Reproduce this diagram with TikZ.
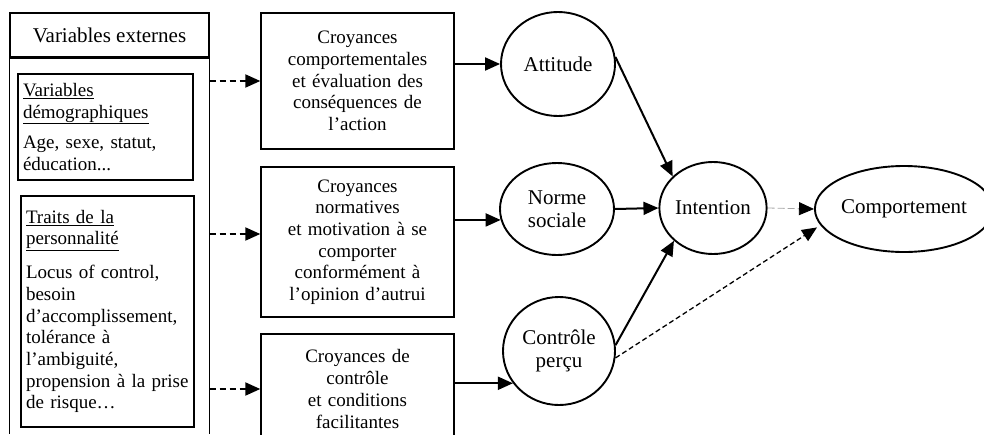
\documentclass[tikz,border=0pt]{standalone}
\usepackage{fontspec}
\setmainfont{Liberation Serif}
\usepackage{tikz}
\usetikzlibrary{arrows.meta,shapes.geometric}

\begin{document}
\begin{tikzpicture}[
    x=1pt, y=1pt,
    >={Triangle[length=15pt,width=13pt]},
    every node/.style = {inner sep=2pt, font=\fontsize{19}{21.7}\selectfont},
    head/.style  = {rectangle, draw, line width=1.4pt, minimum width=199pt,
                     minimum height=44pt, font=\fontsize{21}{23}\selectfont},
    sub/.style   = {rectangle, draw, line width=1.4pt, align=left,
                     inner xsep=5pt},
    croy/.style  = {rectangle, draw, line width=1.4pt, align=center,
                     minimum width=193pt, text width=180pt},
    var/.style   = {ellipse, draw, line width=1.9pt, align=center,
                     inner sep=0pt, font=\fontsize{21}{23.5}\selectfont},
    solid arr/.style = {->, line width=2pt},
    dash arr/.style  = {->, line width=2pt, dash pattern=on 6pt off 4pt},
  ]
  \useasboundingbox (0,0) rectangle (984,-434);
  % external variables column
  \node[head] (ext) at (109.5,-35) {Variables externes};
  \coordinate (bot) at (0,-434);
  \draw[line width=1.4pt] (ext.south west) -- (ext.south west |- bot);
  \draw[line width=1.4pt] (ext.south east) -- (ext.south east |- bot);
  \draw[line width=2.2pt] (ext.south west) -- (ext.south east);
  \node[sub, minimum width=175pt, minimum height=106pt, text width=165pt] (dem) at (105.5,-127)
    {\underline{Variables}\\\underline{démographiques}\\[9pt]
     Age, sexe, statut,\\éducation...};
  \node[sub, minimum width=173pt, minimum height=231pt, text width=163pt] (pers) at (107.5,-311.5)
    {\underline{Traits de la}\\\underline{personnalité}\\[12pt]
     Locus of control,\\besoin\\d’accomplissement,\\tolérance à\\l’ambiguité,\\
     propension à la prise\\de risque…};
  % beliefs
  \node[croy, minimum height=136pt] (croy1) at (357.5,-81)
    {Croyances\\comportementales\\et évaluation des\\conséquences de\\l’action};
  \node[croy, minimum height=150pt] (croy2) at (357.5,-242)
    {Croyances\\normatives\\et motivation à se\\comporter\\conformément à\\l’opinion d’autrui};
  \node[croy, minimum height=110pt] (croy3) at (357.5,-389)
    {Croyances de\\contrôle\\et conditions\\facilitantes};
  % model variables
  \node[var, minimum width=114pt, minimum height=104pt] (att)   at (558,-64)  {Attitude};
  \node[var, minimum width=114pt, minimum height=92pt]  (norme) at (557,-209) {Norme\\sociale};
  \node[var, minimum width=112pt, minimum height=108pt] (ctrl)  at (559,-351) {Contrôle\\perçu};
  \node[var, minimum width=100pt, minimum height=92pt]  (int)   at (713,-208) {Intention};
  \node[var, minimum width=162pt, minimum height=86pt]  (comp)  at (904,-209) {Comportement};
  % edges
  \draw[dash arr] (croy1.west -| ext.east) -- (croy1.west);
  \draw[dash arr] ([yshift=8pt]croy2.west -| ext.east) -- ([yshift=8pt]croy2.west);
  \draw[dash arr] (croy3.west -| ext.east) -- (croy3.west);
  \draw[solid arr] (croy1.east |- att.west) -- (att.west);
  \draw[solid arr] (croy2.east |- norme.-169) -- (norme.-169);
  \draw[solid arr] (croy3.east |- ctrl.-145) -- (ctrl.-145);
  \draw[solid arr] (att.7) -- (int.142);
  \draw[solid arr] (norme.east) -- (int.west);
  \draw[solid arr] (ctrl.6) -- (int.-140);
  \draw[->, draw=black!35, line width=0.8pt, dash pattern=on 7pt off 3pt,
        -{Triangle[length=15pt,width=13pt,color=black]}] (int.east) -- (comp.west);
  \draw[->, line width=1.3pt, dash pattern=on 5pt off 3pt, shorten >=4pt] (ctrl.-7) -- (comp.-169);
\end{tikzpicture}
\end{document}
